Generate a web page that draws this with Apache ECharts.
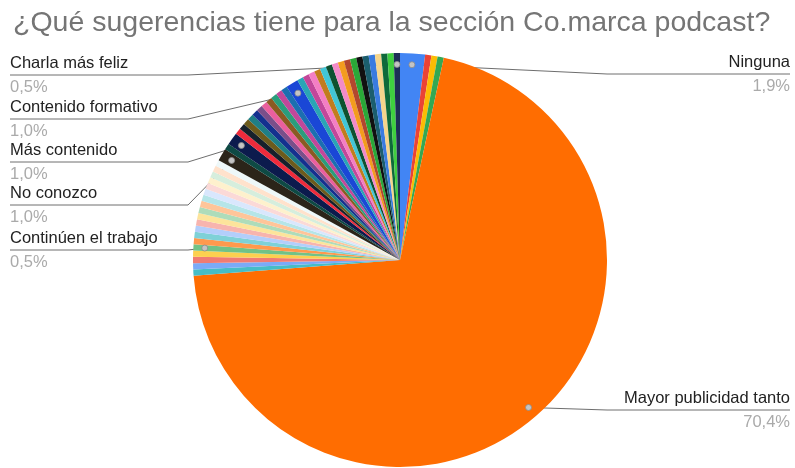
<!DOCTYPE html>
<html>
<head>
<meta charset="utf-8">
<script src="https://cdn.jsdelivr.net/npm/echarts@6/dist/echarts.min.js"></script>
<style>
  html, body { margin: 0; padding: 0; background: #ffffff; }
  #chart { width: 795px; height: 468px; }
</style>
</head>
<body>
<div id="chart"></div>
<script>
// Survey answers, in sheet order (the pie starts at 12 o'clock and runs clockwise).
// Empty entries are single answers that get no callout.
const chartTitle = '¿Qué sugerencias tiene para la sección Co.marca podcast?';

const answers = [
  'Ninguna', '', '', '', 'Mayor publicidad tanto',
  '', '', '', '', 'Continúen el trabajo', '', '', '', '', '', '', '', '', '', '', '', '', '', '',
  'No conozco', '', 'Más contenido',
  '', '', '', '', '', '', '', '', '', '', '',
  'Contenido formativo',
  '', '', '', '', '', '', '', '', '', '', '', '', '', '', '', '',
  'Charla más feliz'
];

const counts = [
  4, 1, 1, 1, 145,
  1, 1, 1, 1, 1, 1, 1, 1, 1, 1, 1, 1, 1, 1, 1, 1, 1, 1, 1,
  2, 1, 2,
  1, 1, 1, 1, 1, 1, 1, 1, 1, 1, 1,
  2,
  1, 1, 1, 1, 1, 1, 1, 1, 1, 1, 1, 1, 1, 1, 1, 1,
  1
];

const sliceColors = [
  '#4285f4', '#ea4335', '#fbbc04', '#34a853', '#ff6d01',
  '#46bdc6', '#7baaf7', '#f07b72', '#fcd04f', '#71c287', '#ff994d', '#7ed1d7',
  '#b3cefb', '#f7b4ae', '#fde49b', '#aedcba', '#ffc599', '#b5e5e8',
  '#d9e7fd', '#fbd9d7', '#fef1cd', '#d6eedd', '#ffe2cc', '#eef8f9',
  '#2b2419', '#0e4a44', '#0c1b4d',
  '#ef2b3c', '#17202b', '#6d5b1c', '#1e7f86', '#14318f', '#7a4f8a', '#ea5f9e',
  '#8b5a22', '#2a9d7c', '#c2479a', '#1c6fb0',
  '#1a47d6',
  '#2aa5b5', '#c2479a', '#f47ec4', '#c27c1e', '#42c6d6', '#0e5130', '#f28bc8',
  '#f39c1e', '#b3472e', '#2aa838', '#111111', '#1b5e6e', '#3a7be0', '#f5d58c',
  '#0f6a3a', '#3fcf3f',
  '#1c2e56'
];

// Callout placement: which side the label sits on and the height of its underline.
const calloutLayout = {
  'Ninguna':               { side: 'right', y: 74 },
  'Mayor publicidad tanto': { side: 'right', y: 410 },
  'Charla más feliz':      { side: 'left', y: 75 },
  'Contenido formativo':   { side: 'left', y: 119 },
  'Más contenido':         { side: 'left', y: 162 },
  'No conozco':            { side: 'left', y: 205 },
  'Continúen el trabajo':  { side: 'left', y: 250 }
};

const CX = 400, CY = 260, R = 207;
const LEFT_X = 10, RIGHT_X = 790;
const FONT = "Arial, 'Liberation Sans', sans-serif";

const total = counts.reduce((a, b) => a + b, 0);
const names = answers.map((a, i) => a || ('Respuesta ' + (i + 1)));
const pctText = v => (v / total * 100).toFixed(1).replace('.', ',') + '%';

// Mid angle of a slice, degrees clockwise from 12 o'clock.
function midAngle(idx) {
  let before = 0;
  for (let i = 0; i < idx; i++) before += counts[i];
  return (before + counts[idx] / 2) / total * 360;
}
function onCircle(deg, r) {
  const a = deg * Math.PI / 180;
  return [CX + r * Math.sin(a), CY - r * Math.cos(a)];
}

const pieData = counts.map((v, i) => {
  const item = { name: names[i], value: v, itemStyle: { color: sliceColors[i] } };
  if (calloutLayout[answers[i]]) {
    item.label = { show: true };
    item.labelLine = { show: true };
  }
  return item;
});

const calloutIdx = answers.map((a, i) => calloutLayout[a] ? i : -1).filter(i => i >= 0);

const chart = echarts.init(document.getElementById('chart'), null, { renderer: 'canvas' });
chart.setOption({
  backgroundColor: '#ffffff',
  animation: false,
  title: {
    text: chartTitle,
    left: 8,
    top: 4,
    textStyle: { fontFamily: FONT, fontSize: 28.5, fontWeight: 'normal', color: '#757575' }
  },
  series: [
    {
      type: 'pie',
      center: [CX, CY],
      radius: [0, R],
      startAngle: 90,
      clockwise: true,
      avoidLabelOverlap: false,
      silent: true,
      itemStyle: { borderWidth: 0 },
      label: {
        show: false,
        position: 'outside',
        formatter: p => '{n|' + p.name + '}\n{p|' + pctText(p.value) + '}',
        rich: {
          n: { fontFamily: FONT, fontSize: 16.5, color: '#222222', lineHeight: 24 },
          p: { fontFamily: FONT, fontSize: 16.5, color: '#aaaaaa', lineHeight: 24 }
        }
      },
      labelLine: { show: false, smooth: false, lineStyle: { color: '#6e6e6e', width: 1 } },
      labelLayout: function (p) {
        const c = calloutLayout[answers[p.dataIndex]];
        if (!c) return {};
        const dot = onCircle(midAngle(p.dataIndex), R * 0.945);
        if (c.side === 'left') {
          const kx = Math.min(CX - R - 5, dot[0]);
          return {
            x: LEFT_X, y: c.y, align: 'left', verticalAlign: 'middle',
            labelLinePoints: [dot, [kx, c.y], [LEFT_X, c.y]]
          };
        }
        const kx = Math.max(CX + R, dot[0]);
        return {
          x: RIGHT_X, y: c.y, align: 'right', verticalAlign: 'middle',
          labelLinePoints: [dot, [kx, c.y], [RIGHT_X, c.y]]
        };
      },
      data: pieData
    },
    {
      // small markers where each callout line meets its slice
      type: 'custom',
      coordinateSystem: 'none',
      silent: true,
      z: 5,
      data: calloutIdx,
      renderItem: function (params, api) {
        const idx = calloutIdx[params.dataIndex];
        const pt = onCircle(midAngle(idx), R * 0.945);
        return {
          type: 'circle',
          shape: { cx: pt[0], cy: pt[1], r: 3 },
          style: { fill: '#c4c4c4', stroke: '#8a8a8a', lineWidth: 0.8 }
        };
      }
    }
  ]
});
</script>
</body>
</html>
